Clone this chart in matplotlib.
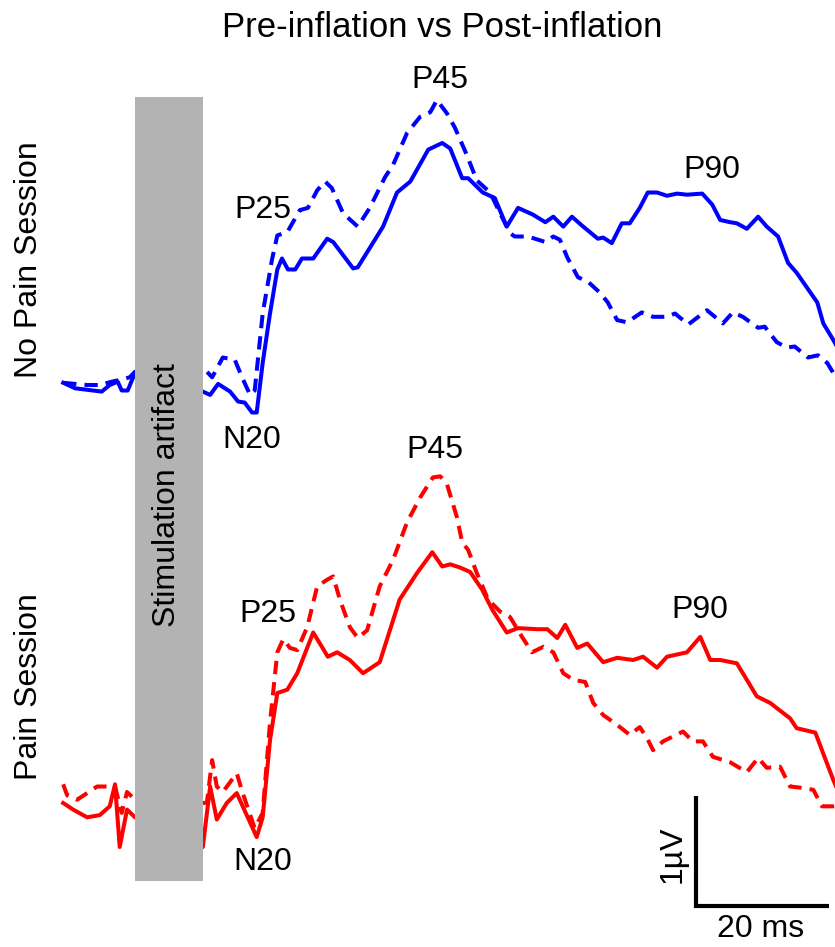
import numpy as np
import matplotlib
matplotlib.use("Agg")
import matplotlib.pyplot as plt
from matplotlib.patches import Rectangle

plt.rcParams['font.family'] = ['Liberation Sans', 'DejaVu Sans']

# time in ms (0 = stimulus), amplitude in microvolts
t_np_pre = [-10.8, -9.0, -5.0, -3.8, -2.6, -2.0, -1.1, 0.0, 10.2, 11.3, 12.5, 14.3, 15.5, 16.5,
            17.6, 18.3, 19.2, 20.3, 21.4, 22.1, 23.0, 24.1, 25.1, 26.8, 28.9, 29.8, 32.8, 33.5,
            37.3, 39.4, 41.4, 44.1, 46.2, 47.4, 49.2, 50.1, 52.3, 54.1, 55.9, 57.6, 59.8, 61.7,
            62.9, 64.4, 65.7, 67.2, 69.6, 70.4, 71.7, 73.2, 74.4, 75.9, 77.1, 78.5, 80.0, 81.5,
            83.0, 85.3, 86.8, 88.0, 89.5, 90.5, 92.0, 93.7, 95.0, 96.7, 98.2, 99.5, 102.6, 103.5,
            105.0, 106.0]
v_np_pre = [0.02, -0.03, -0.06, 0.0, 0.03, -0.05, -0.05, 0.11, -0.06, -0.09, 0.01, -0.06, -0.15, -0.16,
            -0.25, -0.25, 0.20, 0.65, 1.05, 1.15, 1.05, 1.05, 1.15, 1.15, 1.33, 1.30, 1.06, 1.07,
            1.44, 1.75, 1.85, 2.14, 2.20, 2.15, 1.88, 1.88, 1.75, 1.70, 1.44, 1.61, 1.55, 1.48,
            1.53, 1.44, 1.53, 1.45, 1.33, 1.34, 1.29, 1.47, 1.47, 1.61, 1.75, 1.75, 1.72, 1.74,
            1.73, 1.74, 1.64, 1.50, 1.48, 1.47, 1.42, 1.53, 1.44, 1.35, 1.11, 1.02, 0.75, 0.56,
            0.41, 0.30]

t_np_post = [-10.8, -7.2, -5.3, -3.5, -2.0, -0.8, 0.0, 10.2, 11.6, 13.2, 15.0, 16.1, 17.3, 18.0,
             19.2, 20.6, 21.4, 22.9, 24.8, 26.0, 27.4, 28.6, 29.6, 31.3, 33.5, 35.3, 37.6, 38.8,
             40.9, 42.9, 44.4, 45.4, 46.9, 48.1, 49.9, 51.4, 53.4, 54.9, 56.4, 57.1, 59.1, 61.7,
             62.9, 63.9, 65.0, 66.6, 68.1, 69.9, 71.1, 72.5, 74.0, 76.2, 77.9, 80.0, 81.2, 83.2,
             86.0, 88.4, 89.9, 91.4, 93.7, 94.7, 96.5, 98.0, 99.2, 101.2, 102.7, 104.1, 105.0, 106.0]
v_np_post = [0.02, 0.0, 0.0, 0.03, 0.05, 0.07, 0.12, 0.16, 0.07, 0.25, 0.23, 0.07, -0.09, -0.05,
             0.65, 1.14, 1.36, 1.39, 1.59, 1.61, 1.77, 1.85, 1.79, 1.56, 1.44, 1.61, 1.89, 2.00,
             2.29, 2.44, 2.48, 2.59, 2.47, 2.34, 2.09, 1.86, 1.75, 1.56, 1.38, 1.35, 1.35, 1.30,
             1.35, 1.32, 1.16, 0.98, 0.94, 0.84, 0.75, 0.59, 0.57, 0.66, 0.62, 0.62, 0.65, 0.55,
             0.68, 0.56, 0.66, 0.62, 0.52, 0.53, 0.39, 0.34, 0.35, 0.25, 0.27, 0.20, 0.11, 0.05]

t_p_pre = [-10.8, -9.3, -7.2, -5.3, -3.8, -3.0, -2.3, -1.2, 0.0, 10.2, 11.3, 12.3, 13.8, 15.3,
           16.2, 18.3, 19.2, 20.3, 21.4, 22.9, 24.4, 26.8, 29.0, 30.4, 32.3, 34.3, 36.8, 39.8,
           42.4, 44.7, 46.2, 47.4, 48.9, 50.4, 52.2, 53.7, 55.9, 57.6, 60.5, 62.0, 63.5, 64.7,
           66.5, 68.0, 70.4, 72.5, 74.9, 76.4, 78.5, 80.0, 83.0, 85.0, 86.5, 88.0, 90.5, 93.5,
           95.5, 98.5, 99.5, 102.3, 105.0, 106.0]
v_p_pre = [-0.12, -0.18, -0.25, -0.23, -0.15, 0.05, -0.52, -0.18, -0.25, -0.52, 0.03, -0.27, -0.12, -0.03,
           -0.15, -0.43, -0.25, 0.45, 0.88, 0.91, 1.06, 1.43, 1.21, 1.25, 1.18, 1.06, 1.16, 1.73,
           1.97, 2.16, 2.03, 2.05, 2.02, 1.98, 1.82, 1.64, 1.43, 1.47, 1.46, 1.46, 1.38, 1.50,
           1.29, 1.33, 1.16, 1.20, 1.18, 1.21, 1.11, 1.21, 1.25, 1.39, 1.18, 1.18, 1.15, 0.85,
           0.79, 0.65, 0.56, 0.52, 0.09, -0.05]

t_p_post = [-10.8, -10.2, -8.7, -5.7, -4.1, -3.0, -2.0, -1.2, 0.0, 10.8, 11.6, 12.3, 13.2, 15.3,
            16.2, 18.0, 19.2, 20.3, 21.4, 22.3, 23.3, 24.4, 25.9, 27.4, 28.9, 29.8, 30.8, 32.3,
            33.5, 34.9, 36.8, 38.8, 40.9, 42.9, 44.8, 45.9, 46.9, 48.4, 49.2, 50.1, 51.4, 53.1,
            54.9, 56.4, 58.2, 59.7, 61.4, 62.9, 64.4, 65.9, 67.7, 68.9, 70.4, 72.5, 74.4, 75.9,
            77.0, 77.9, 79.4, 82.4, 83.9, 85.4, 86.9, 89.5, 92.0, 93.7, 95.0, 97.0, 98.5, 100.0,
            102.0, 103.3, 105.0, 106.0]
v_p_post = [0.05, -0.05, -0.09, 0.03, 0.03, 0.03, -0.21, -0.02, -0.09, -0.12, 0.27, 0.03, -0.02, 0.15,
            -0.03, -0.35, -0.21, 0.61, 1.25, 1.37, 1.29, 1.27, 1.48, 1.85, 1.91, 1.94, 1.73, 1.48,
            1.38, 1.45, 1.85, 2.09, 2.43, 2.66, 2.84, 2.85, 2.78, 2.48, 2.25, 2.18, 1.97, 1.73,
            1.62, 1.57, 1.39, 1.25, 1.30, 1.25, 1.06, 1.00, 0.98, 0.79, 0.68, 0.59, 0.50, 0.57,
            0.47, 0.36, 0.44, 0.53, 0.44, 0.44, 0.30, 0.25, 0.16, 0.29, 0.20, 0.21, 0.03, 0.02,
            0.0, -0.15, -0.15, -0.14]

artifact = (0.0, 10.2)   # ms
scale_ms = 20
scale_uv = 1

pain_offset = -3.68  # vertical shift of the pain-session traces

fig = plt.figure(figsize=(8.35, 9.47), dpi=100)
ax = fig.add_axes([0, 0, 1, 1])
ax.set_xlim(-20.3, 105.26)
ax.set_ylim(-5.109, 3.5)
ax.axis('off')

lw = 2.9
dash = (0, (3.3, 2.0))
ax.plot(t_np_pre, v_np_pre, color='#0000ff', lw=lw, solid_joinstyle='round', zorder=2)
ax.plot(t_np_post, v_np_post, color='#0000ff', lw=lw, ls=dash, zorder=2)
ax.plot(t_p_pre, np.array(v_p_pre) + pain_offset, color='#ff0000', lw=lw,
        solid_joinstyle='round', zorder=2)
ax.plot(t_p_post, np.array(v_p_post) + pain_offset, color='#ff0000', lw=lw, ls=dash, zorder=2)

# stimulation artifact window
ax.add_patch(Rectangle((artifact[0], -4.51), artifact[1] - artifact[0], 7.13,
                       facecolor='#b3b3b3', edgecolor='none', zorder=3))
ax.text(4.8, -1.0, 'Stimulation artifact', rotation=90, ha='center', va='center',
        fontsize=23, zorder=4)

fs = 23
ax.text(46.2, 3.164, 'Pre-inflation vs Post-inflation', ha='center', va='baseline', fontsize=25)
ax.text(-15.9, 1.14, 'No Pain Session', rotation=90, ha='center', va='center', fontsize=fs)
ax.text(-15.9, -2.74, 'Pain Session', rotation=90, ha='center', va='center', fontsize=fs)

# peak labels
ax.text(45.9, 2.70, 'P45', ha='center', va='baseline', fontsize=fs)
ax.text(19.2, 1.52, 'P25', ha='center', va='baseline', fontsize=fs)
ax.text(86.8, 1.88, 'P90', ha='center', va='baseline', fontsize=fs)
ax.text(17.6, -0.573, 'N20', ha='center', va='baseline', fontsize=fs)
ax.text(45.1, -0.664, 'P45', ha='center', va='baseline', fontsize=fs)
ax.text(20.0, -2.155, 'P25', ha='center', va='baseline', fontsize=fs)
ax.text(85.0, -2.118, 'P90', ha='center', va='baseline', fontsize=fs)
ax.text(19.2, -4.41, 'N20', ha='center', va='baseline', fontsize=fs)

# scale bar
sx, sy = 84.4, -4.736
ax.plot([sx, sx, sx + scale_ms], [sy + scale_uv, sy, sy], color='black', lw=3,
        solid_joinstyle='miter', solid_capstyle='butt')
ax.text(sx - 3.5, sy + 0.47, '1µV', rotation=90, ha='center', va='center', fontsize=fs)
ax.text(sx + scale_ms / 2 - 0.4, -5.02, f'{scale_ms} ms', ha='center', va='baseline', fontsize=fs)

fig.savefig('out.png', dpi=100)
